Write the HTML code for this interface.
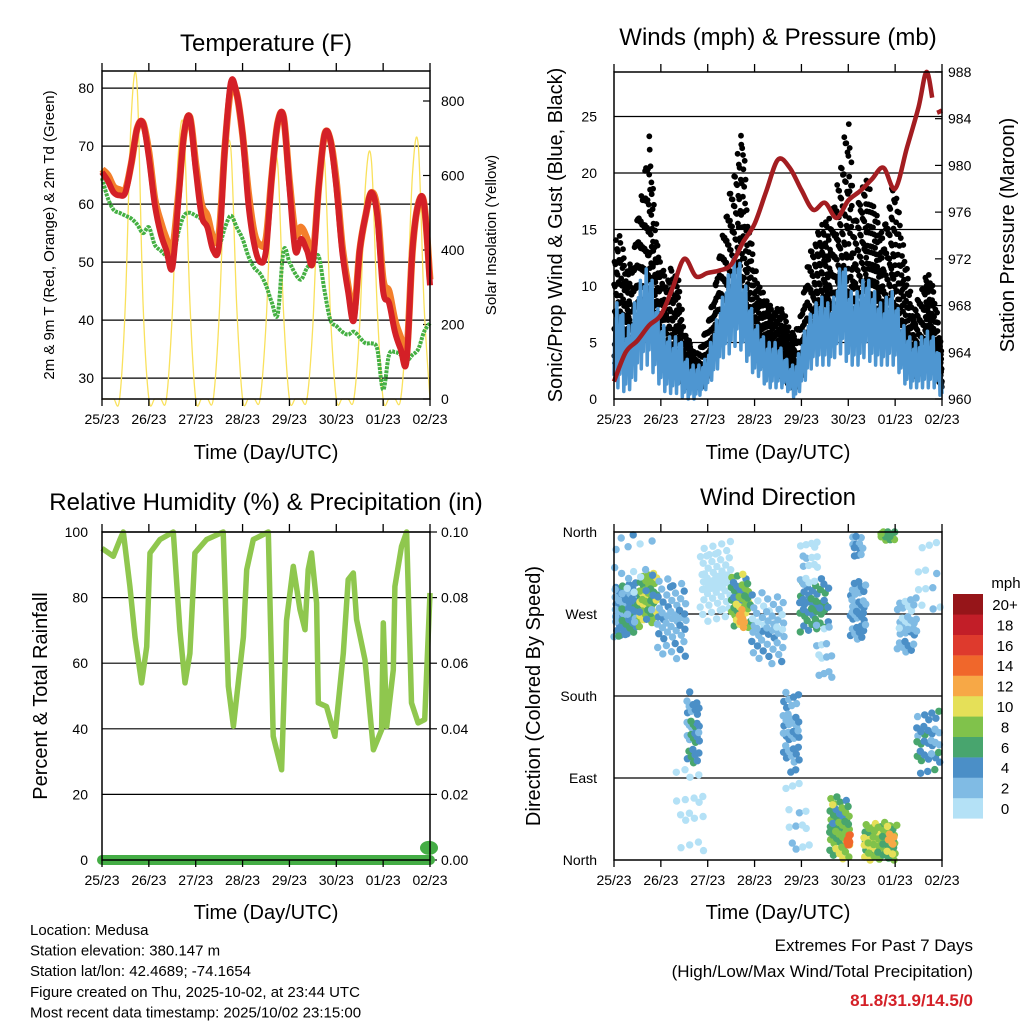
<!DOCTYPE html>
<html><head><meta charset="utf-8"><style>
html,body{margin:0;padding:0;background:#fff;}
svg{display:block;font-family:"Liberation Sans",sans-serif;}
</style></head><body>
<svg id="c" width="1024" height="1024" viewBox="0 0 1024 1024" xmlns="http://www.w3.org/2000/svg"></svg>
<script>
const days=["25/23","26/23","27/23","28/23","29/23","30/23","01/23","02/23"];
const tRed=[65.5,64,62,61.5,62,67,73,74,68,60,55,52,49,60,72,75,66,58,56,52,53,70,81,79,72,60,53,50,52,65,74,75,63,52,54,52,50,63,72,71,63,52,45,40,52,58,62,58,45,43,38,35,33,52,60,60,46];
const tOrange=[66,65,63,62.5,62.5,67,73,74,69,61,57,54,52,61,72,75,67,60,58,54,55,70,80,79,72,62,55,53,54,65,74,75,64,55,56,54,51,63,72,71,64,53,46,41,52,58,62,59,47,45,40,37,34,52,60,60,47];
const tDew=[64.5,61,59,58.5,58,57.5,56.5,55,56,53,52,51,50,55,58,58.5,58,57.5,57,55,53,56,58,56,54,51,49,48,46,43,41,52,50,48,47,49,50,51,45,40,39,38,37.5,38,37,36,36,35,28,34,34.5,34,33,34,35,38,39.5];
const solar=[0,0,0,0,260,760,840,260,0,0,0,0,230,650,720,260,0,0,0,0,220,600,670,250,0,0,0,0,200,560,630,230,0,0,0,0,200,570,640,230,0,0,0,0,200,580,640,240,0,0,0,0,210,600,680,250,0];
const windLo=[1,1,0.5,1,2,3,3,2,1,0.5,0.5,0.5,0,0,0,0.5,1,2,3,4,4,5,4,3,2,2,1,1,1,1,0.5,0,1,2,3,3,3,3,4,4,3,3,3,4,3,3,3,3,3,2,1,1,1,1,1,1,0];
const windHi=[8,9,6,7,10,11,12,9,7,6,5,6,4,3,3,3,4,6,8,10,12,13,11,9,7,6,5,5,5,4,3,3,5,7,8,9,9,8,10,13,10,9,10,11,10,9,8,10,9,7,6,5,5,6,6,5,3];
const gustLo=[3,4,3,3,6,8,9,6,3,2,2,2,1,1,1,1,2,4,5,6,7,8,7,5,4,3,3,3,2,2,1,1,2,4,5,5,6,6,8,8,7,6,7,8,7,6,5,6,6,4,3,2,2,3,3,2,1];
const gustHi=[14,15,12,12,16,19,24,17,12,11,12,11,6,5,4,5,7,9,13,16,19,22,24,16,12,10,9,8,8,8,6,6,8,12,14,15,16,16,19,22,27,16,18,20,18,16,15,18,20,15,12,8,9,11,11,9,4];
const pHours=[0,6,12,18,24,30,36,42,48,54,60,66,72,78,84,90,96,102,108,114,120,126,132,138,144,150,156,160,163];
const pVals=[961.5,964,965,966.3,967.2,969.5,972,970.5,970.8,971,971.5,973.4,975,977.8,980.5,979.8,977.9,976.2,976.8,975.5,977,977.8,978.8,979.8,978,981.5,985,988,985.8];
const pHours2=[165.5,168];
const pVals2=[984.5,984.7];
const rhHours=[0,5.8,9.2,10.9,14.3,16.9,20.3,22.9,24.6,29.7,36.5,39.9,42.5,45,47.6,53.6,62.1,64.7,67.3,72.4,74.1,77.5,85.2,87.7,92,94.5,98,101.4,104,105.6,107.3,109.9,110.8,115,119.3,123.6,126.1,128.7,130.4,134.7,139,143.2,144.1,145.8,149.2,150,153.4,156,158.5,161.9,165.3,168];
const rhVals=[95,92.6,97.7,100,83.4,68,54,65,93.6,97.7,100,70,54,63,93.6,97.7,100,53,40.8,68,88.5,97.7,100,37.7,27.5,73,89.5,76.3,70.2,88.5,93.6,78.4,47.9,46.8,37.7,63,85.5,87.5,73.3,61,33.6,39.7,72.3,40.7,58,83.4,95.6,100,47.9,41.8,42.8,81.4];
const prHours=[0,168];
const prVals=[0,0];
const prEndHour=[168];
const prEndVal=[0.004];
const clH0=[0,12,0,22,37,30,44,60,64,70,86,88,95,95,103,110,119,121,122,128,136,140,145,155,155];
const clH1=[12,22,22,38,44,46,60,70,67,88,95,100,110,105,112,121,121,129,128,145,144,144,155,168,168];
const clDir=[275,285,300,265,145,60,305,285,265,255,140,40,280,330,230,35,20,275,345,20,355,25,255,130,300];
const clSpread=[30,30,60,45,40,60,45,30,10,40,45,50,30,30,40,35,8,35,15,22,8,8,35,35,50];
const clSpeed=[5,9,3,3.5,5,1,1,8,13,3,4,1.5,6,1.5,2.5,8,15,4,4,9,8,13,3,5,1.5];
const clSpeedVar=[2,2,2,1.5,2,1,1,3,1,1.5,1.5,1,2,1,1,2.5,1,1.5,1,2.5,1,1,1.5,2,1];
const clCount=[60,45,25,50,35,18,60,45,8,50,40,14,45,18,14,55,8,40,12,65,12,6,35,35,12];
const cbLabels=["0","2","4","6","8","10","12","14","16","18","20+"];
const cbColors=["#b4e1f6","#80bbe4","#4b8fc7","#48a56e","#80c24b","#e5e058","#f7a846","#f0672b","#de3a2d","#c21e28","#961519"];

const S=document.getElementById('c');
const NS="http://www.w3.org/2000/svg";
function mk(tag,attrs,parent){const e=document.createElementNS(NS,tag);for(const k in attrs)e.setAttribute(k,attrs[k]);(parent||S).appendChild(e);return e;}
function txt(x,y,s,size,anchor,parent,extra){const e=mk('text',Object.assign({x:x,y:y,'font-size':size,'text-anchor':anchor||'middle',fill:'#000'},extra||{}),parent);e.textContent=s;return e;}
function smooth(pts){if(!pts.length)return'';let d='M'+pts[0][0].toFixed(1)+','+pts[0][1].toFixed(1);for(let i=0;i<pts.length-1;i++){const p0=pts[Math.max(0,i-1)],p1=pts[i],p2=pts[i+1],p3=pts[Math.min(pts.length-1,i+2)];const c1x=p1[0]+(p2[0]-p0[0])/6,c1y=p1[1]+(p2[1]-p0[1])/6,c2x=p2[0]-(p3[0]-p1[0])/6,c2y=p2[1]-(p3[1]-p1[1])/6;d+=' C'+c1x.toFixed(1)+','+c1y.toFixed(1)+' '+c2x.toFixed(1)+','+c2y.toFixed(1)+' '+p2[0].toFixed(1)+','+p2[1].toFixed(1);}return d;}
function frac(v){return v-Math.floor(v);}
function interp(arr,h){const i=Math.min(arr.length-2,Math.floor(h/3));const f=(h-i*3)/3;return arr[i]*(1-f)+arr[i+1]*f;}

const L={x0:102,x1:430}, R={x0:614,x1:942};
const xL=h=>L.x0+h*(L.x1-L.x0)/168;
const xR=h=>R.x0+h*(R.x1-R.x0)/168;
const yT=t=>399-(t-26.4)*5.8;
const ySol=s=>399-s*0.3725;
const yW=m=>399-m*11.3;
const yP=p=>399-(p-960)*11.68;
const yRH=r=>860-r*3.28;
const yPr=v=>860-v*3280;
const yDir=d=>860-d*328/360;

function xAxis(g,xf,yTop,yBot,name){
  for(let i=0;i<days.length;i++){
    const x=xf(i*24);
    const t1=mk('line',{x1:x,y1:yBot,x2:x,y2:yBot+7,stroke:'#000','stroke-width':1.3},g);
    
    
    const t2=mk('line',{x1:x,y1:yTop,x2:x,y2:yTop-8,stroke:'#000','stroke-width':1.3},g);
    
    
    const lb=txt(x,yBot+25,days[i],14,'middle',g);
    
    
  }
}
function frame(g,x0,x1,y0,y1,name){
  const r=mk('rect',{x:x0,y:y0,width:x1-x0,height:y1-y0,fill:'none',stroke:'#000','stroke-width':1.5},g);
  
  
}
function grid(g,x0,x1,y,name){
  const l=mk('line',{x1:x0,y1:y,x2:x1,y2:y,stroke:'#000','stroke-width':1.2},g);
  
  
}

/* ---------- Panel 1: Temperature ---------- */
const g1=mk('g',{});


const tt1=txt(266,51,'Temperature (F)',24,'middle',g1);


[30,40,50,60,70,80].forEach(v=>{grid(g1,L.x0,L.x1,yT(v),'temp');
  const lb=txt(94,yT(v)+5,String(v),14,'end',g1);
  
  });
[0,200,400,600,800].forEach(v=>{
  const tk=mk('line',{x1:L.x1,y1:ySol(v),x2:L.x1-7,y2:ySol(v),stroke:'#000','stroke-width':1.2},g1);
  
  
  const lb=txt(441,ySol(v)+5,String(v),14,'start',g1);
  
  });
const solPath=mk('path',{d:smooth(solar.map((v,i)=>[xL(i*3),ySol(v)])),fill:'none',stroke:'#f9e15c','stroke-width':1.3},g1);


const dewPath=mk('path',{d:smooth(tDew.map((v,i)=>[xL(i*3),yT(v)])),fill:'none',stroke:'#45b043','stroke-width':4,'stroke-dasharray':'3 1'},g1);


const orPath=mk('path',{d:smooth(tOrange.map((v,i)=>[xL(i*3),yT(v)])),fill:'none',stroke:'#f47f2b','stroke-width':7,'stroke-linejoin':'round'},g1);


const redPath=mk('path',{d:smooth(tRed.map((v,i)=>[xL(i*3),yT(v)])),fill:'none',stroke:'#d42027','stroke-width':6,'stroke-linejoin':'round'},g1);


frame(g1,L.x0,L.x1,71,399,'temp');
xAxis(g1,xL,71,399,'temp');
const yl1=txt(0,0,'2m & 9m T (Red, Orange) & 2m Td (Green)',15,'middle',g1,{transform:'translate(54,235) rotate(-90)'});


const yr1=txt(0,0,'Solar Insolation (Yellow)',15,'middle',g1,{transform:'translate(496,235) rotate(-90)'});


const xt1=txt(266,459,'Time (Day/UTC)',20,'middle',g1);



/* ---------- Panel 2: Winds ---------- */
const g2=mk('g',{});


const tt2=txt(778,45,'Winds (mph) & Pressure (mb)',24,'middle',g2);


[5,10,15,20,25].forEach(v=>grid(g2,R.x0,R.x1,yW(v),'wind'));
[0,5,10,15,20,25].forEach(v=>{const lb=txt(597,yW(v)+5,String(v),14,'end',g2);
  
  });
[960,964,968,972,976,980,984,988].forEach(v=>{
  const tk=mk('line',{x1:R.x1,y1:yP(v),x2:R.x1-7,y2:yP(v),stroke:'#000','stroke-width':1.2},g2);
  
  
  const lb=txt(948,yP(v)+5,String(v),14,'start',g2);
  
  });
const gg=mk('g',{fill:'#000'},g2);


for(let k=0;k<2400;k++){
  const h=168*frac(k*0.5698403+0.13);
  const u=frac(k*0.7548777+0.41);
  const lo=interp(gustLo,h),hi=interp(gustHi,h);
  const v=lo+(hi-lo)*Math.pow(u,1.6);
  const c=mk('circle',{cx:xR(h).toFixed(1),cy:yW(v).toFixed(1),r:2.9},gg);
  
  
}
const wz=[];
for(let k=0;k<=336;k++){
  const h=k*0.5;
  const lo=interp(windLo,h),hi=interp(windHi,h);
  const f=[0.15,0.85,0.35,1,0,0.6][k%6];
  wz.push([xR(h),yW(lo+(hi-lo)*f)]);
}
const wline=mk('polyline',{points:wz.map(p=>p[0].toFixed(1)+','+p[1].toFixed(1)).join(' '),fill:'none',stroke:'#4e96d1','stroke-width':3.5,'stroke-linejoin':'round'},g2);


const pp=mk('path',{d:smooth(pHours.map((h,i)=>[xR(h),yP(pVals[i])])),fill:'none',stroke:'#a31d21','stroke-width':4.5},g2);


const pp2=mk('path',{d:smooth(pHours2.map((h,i)=>[xR(h),yP(pVals2[i])])),fill:'none',stroke:'#a31d21','stroke-width':4.5},g2);


frame(g2,R.x0,R.x1,72,399,'wind');
xAxis(g2,xR,72,399,'wind');
const yl2=txt(0,0,'Sonic/Prop Wind & Gust (Blue, Black)',20,'middle',g2,{transform:'translate(562,235) rotate(-90)'});


const yr2=txt(0,0,'Station Pressure (Maroon)',20,'middle',g2,{transform:'translate(1014,235) rotate(-90)'});


const xt2=txt(778,459,'Time (Day/UTC)',20,'middle',g2);



/* ---------- Panel 3: RH ---------- */
const g3=mk('g',{});


const tt3=txt(266,510,'Relative Humidity (%) & Precipitation (in)',24,'middle',g3);


[20,40,60,80,100].forEach(v=>grid(g3,L.x0,L.x1,yRH(v),'rh'));
[0,20,40,60,80,100].forEach(v=>{const lb=txt(88,yRH(v)+5,String(v),14,'end',g3);
  
  });
[0,0.02,0.04,0.06,0.08,0.10].forEach(v=>{
  const tk=mk('line',{x1:L.x1,y1:yPr(v),x2:L.x1+7,y2:yPr(v),stroke:'#000','stroke-width':1.2},g3);
  
  
  const lb=txt(441,yPr(v)+5,v.toFixed(2),14,'start',g3);
  
  });
const rhp=mk('path',{d:rhHours.map((h,i)=>(i?'L':'M')+xL(h).toFixed(1)+','+yRH(rhVals[i]).toFixed(1)).join(' '),fill:'none',stroke:'#8fc74e','stroke-width':5.5,'stroke-linejoin':'round'},g3);


const prp=mk('path',{d:prHours.map((h,i)=>(i?'L':'M')+xL(h).toFixed(1)+','+yPr(prVals[i]).toFixed(1)).join(' '),fill:'none',stroke:'#44ad45','stroke-width':10,'stroke-linecap':'round'},g3);


prEndHour.forEach((h,i)=>{const e=mk('ellipse',{cx:xL(h)-1,cy:yPr(prEndVal[i])+1,rx:9,ry:7,fill:'#44ad45'},g3);
  
  });
frame(g3,L.x0,L.x1,532,860,'rh');
xAxis(g3,xL,532,860,'rh');
const yl3=txt(0,0,'Percent & Total Rainfall',20,'middle',g3,{transform:'translate(47,696) rotate(-90)'});


const xt3=txt(266,919,'Time (Day/UTC)',20,'middle',g3);



/* ---------- Panel 4: Wind direction ---------- */
const g4=mk('g',{});


const tt4=txt(778,505,'Wind Direction',24,'middle',g4);


[90,180,270].forEach(v=>grid(g4,R.x0,R.x1,yDir(v),'dir'));
[[360,'North'],[270,'West'],[180,'South'],[90,'East'],[0,'North']].forEach(a=>{
  const lb=txt(597,yDir(a[0])+5,a[1],14,'end',g4);
  
  });
function spdColor(s){let i=Math.floor(s/2);if(i<0)i=0;if(i>10)i=10;return cbColors[i];}
const dg=mk('g',{},g4);


for(let c=0;c<clH0.length;c++){
  for(let k=0;k<clCount[c];k++){
    const h=clH0[c]+(clH1[c]-clH0[c])*frac(k*0.5698403+c*0.17);
    const u=frac(k*0.7548777+c*0.31);
    let d=clDir[c]+clSpread[c]*(u*2-1)*Math.abs(u*2-1)*0.5+clSpread[c]*(u*2-1)*0.5;
    d=Math.max(0,Math.min(360,d));
    const s=clSpeed[c]+clSpeedVar[c]*(frac(k*0.4142+c*0.23)*2-1);
    const p=mk('circle',{cx:xR(h).toFixed(1),cy:yDir(d).toFixed(1),r:3.7,fill:spdColor(s)},dg);
    
    
  }
}
frame(g4,R.x0,R.x1,532,860,'dir');
xAxis(g4,xR,532,860,'dir');
const yl4=txt(0,0,'Direction (Colored By Speed)',20,'middle',g4,{transform:'translate(540,696) rotate(-90)'});


const xt4=txt(778,919,'Time (Day/UTC)',20,'middle',g4);



/* colorbar */
const cb=mk('g',{});


const unit=txt(1006,588,'mph',15,'middle',cb);


for(let i=0;i<11;i++){
  const top=594+(10-i)*20.4;
  const r=mk('rect',{x:953,y:top,width:30,height:20.6,fill:cbColors[i]},cb);
  
  
  const lb=txt(1005,top+16,cbLabels[i],15,'middle',cb);
  
  
}

/* info text */
const info=["Location: Medusa","Station elevation: 380.147 m","Station lat/lon: 42.4689; -74.1654","Figure created on Thu, 2025-10-02, at 23:44 UTC","Most recent data timestamp: 2025/10/02 23:15:00"];
info.forEach((s,i)=>{const t=txt(30,935+i*20.6,s,15,'start');
  
  });
const e1=txt(973,951,'Extremes For Past 7 Days',17,'end');


const e2=txt(973,977,'(High/Low/Max Wind/Total Precipitation)',17,'end');


const e3=txt(973,1006,'81.8/31.9/14.5/0',17,'end',S,{fill:'#d42027','font-weight':'bold'});


</script>
</body></html>
